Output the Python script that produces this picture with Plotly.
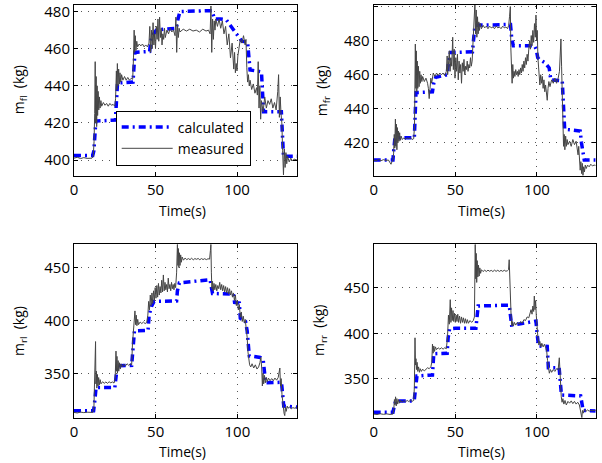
import plotly.graph_objects as go

# ---------------- data: front-left ----------------
t_fl_calc = [0, 11.5, 12.2, 12.8, 13.4, 25.4, 26.0, 26.7, 36.2, 36.8, 37.4, 46.4, 47.0, 48.0, 50.5, 55, 62.8, 63.8, 65.0, 84.5, 85.5, 86.3, 90, 93.5, 95.5, 98, 101.5, 103, 106.5, 107.3, 108.0, 112, 115.0, 115.7, 116.3, 127.2, 127.9, 128.5, 136.8]
m_fl_calc = [402.5, 402.5, 405, 415, 421, 421.5, 432, 441.5, 442, 451, 458, 458.5, 464, 467, 470, 470.5, 471, 476, 480, 480.5, 478, 476, 476, 475.5, 473, 470, 466, 464, 463.5, 455, 448.5, 448, 447.5, 436, 426, 426, 414, 402, 402]

t_fl_meas = [0, 2, 4, 6, 8, 10, 11, 11.8, 12.3, 12.7, 13.0, 13.3, 13.6, 13.9, 14.2, 14.5, 14.8, 15.2, 15.6, 16.0, 16.5, 17, 18, 19, 20, 21, 22, 23, 24, 25,
             25.5, 26.0, 26.3, 26.6, 27.0, 27.4, 27.8, 28.2, 28.7, 29.2, 30, 31, 32, 33, 34, 35, 36,
             36.5, 36.9, 37.2, 37.6, 38.0, 38.5, 39, 40, 41, 42, 43, 44, 45,
             46, 46.5, 47.0, 47.5, 48, 48.5, 49, 49.5, 50, 50.5, 51, 51.5, 52, 52.5, 53, 53.5, 54, 54.5, 55, 55.5, 56, 57, 58, 59, 60, 61, 62, 62.5, 63, 63.5, 64, 64.5,
             65, 67, 69, 71, 73, 75, 77, 79, 81, 82.5, 83.5, 84, 84.5, 85, 85.5, 86, 86.5, 87, 88, 89, 90, 91, 92, 93, 94, 95, 96, 97, 98, 98.5, 99, 99.5, 100, 100.5,
             101, 102, 103, 104, 105, 105.5, 106, 106.5, 107, 107.5, 108, 109, 110, 111, 112, 112.5, 113, 113.5, 114, 114.5, 115, 116, 117, 118, 119, 120, 121, 122, 123, 124,
             125, 125.5, 126, 126.5, 127, 127.5, 128, 128.5, 129, 129.5, 130, 130.5, 131, 132, 133, 134, 135, 136, 136.8]
m_fl_meas = [401, 401.5, 400.8, 401.3, 400.9, 401.2, 401, 402, 410, 425, 453, 420, 445, 418, 440, 424, 437, 427, 434, 428, 432, 429, 431, 429.5, 430.5, 429, 430.5, 429.5, 430, 429,
             433, 448, 438, 452, 440, 449, 441, 447, 442, 446, 443, 445, 443, 444.5, 443, 444, 443.5,
             455, 470, 458, 467, 459, 464, 461, 462.5, 461.5, 462.5, 461, 462, 461,
             463, 472, 458, 470, 460, 474, 462, 468, 460, 472, 465, 476, 464, 477, 466, 471, 462, 468, 465, 471, 466, 470, 468, 471, 469, 470, 467, 477, 458, 473, 466, 471,
             469, 470.5, 469.5, 470.5, 469.5, 470, 469, 470.5, 469.5, 470, 468, 483, 458, 476, 465, 475, 470, 476, 472, 476, 471, 475, 468, 472, 462, 468, 455, 463, 449, 458, 447, 452, 448, 456,
             460, 465, 463, 467, 462, 465, 450, 442, 446, 440, 443, 438, 441, 436, 439, 435, 453, 428, 440, 422, 432, 426, 434, 428, 432, 430, 433, 428, 431, 427,
             437, 446, 423, 434, 425, 420, 405, 392, 406, 396, 404, 398, 402, 399, 401, 399.5, 400.5, 400, 400]

# ---------------- data: front-right ----------------
t_fr_calc = [0, 11.8, 12.3, 13.0, 24.9, 25.3, 25.9, 36.0, 36.8, 38.0, 45.0, 45.8, 47.0, 60.5, 61.2, 62.0, 83.8, 84.5, 85.5, 98.5, 99.5, 100.5, 101.5, 105, 107.5, 108.5, 115.5, 116.2, 117, 122, 126.5, 127.3, 128.3, 129, 136]
m_fr_calc = [410, 410, 416, 423, 423, 440, 449.5, 450, 455, 458.5, 460, 467, 473, 473.5, 482, 489, 489.5, 482, 477, 477, 475, 470, 469, 467, 464, 457, 456.5, 440, 428, 427.5, 427, 420, 412, 410, 410]

t_fr_meas = [0, 1.5, 3, 4.5, 6, 7.5, 9, 10, 10.6, 11.2, 11.8,
             12.2, 12.6, 12.9, 13.3, 13.6, 13.9, 14.2, 14.5, 14.8, 15.1, 15.5, 15.9, 16.3, 16.8, 17.5, 18.5, 19.5, 20.5, 21.5, 22.5, 23.5, 24.5,
             25.0, 25.3, 25.5, 25.8, 26.1, 26.4, 26.7, 27, 27.4, 27.8, 28.2, 28.6, 29, 29.5, 30, 31, 32, 33, 33.5, 34, 34.5, 35, 35.5, 36,
             36.5, 37.5, 38.5, 39.5, 40.5, 41.5, 42.5, 43.5, 44.5, 45, 45.3,
             45.8, 46.3, 46.8, 47.3, 47.8, 48.4, 48.8, 49.3, 49.8, 50.3, 50.8, 51.3, 51.8, 52.3, 52.8, 53.3, 53.8, 54.3, 54.8, 55.3, 55.8, 56.3, 56.8, 57.3, 57.8, 58.3, 58.8, 59.3, 59.8, 60.3,
             60.8, 61.3, 61.7, 62.0, 62.4, 62.8, 63.2, 63.6, 64.0, 64.4, 64.8, 65.3, 66, 67, 68, 69, 70, 71, 72, 73, 74, 75, 76, 77, 78, 79, 80, 81, 82, 82.7, 83.2, 83.7,
             84.0, 84.4, 84.8, 85.2, 85.6, 86, 86.5, 87, 87.5, 88, 88.5, 89, 89.5, 90, 90.5, 91, 91.5, 92, 92.5, 93, 93.5, 94, 94.5, 95, 95.5, 96, 96.5, 97, 97.5, 98, 98.5, 99, 99.4, 99.8, 100.2, 100.6,
             101, 101.4, 101.8, 102.3, 102.8, 103.3, 103.8, 104.3, 104.8, 105.3, 105.8, 106.3, 106.8, 107.3, 108, 109, 110, 111, 112, 113, 113.8, 114.2, 114.7,
             115.1, 115.5, 115.9, 116.3, 116.7, 117.1, 117.6, 118, 118.5, 119, 120, 121, 122, 123, 124, 124.7, 125.2, 125.6, 126.1, 126.5, 126.9, 127.4, 127.8, 128.2,
             128.6, 129.1, 129.6, 130.2, 131, 132, 133, 134, 135, 136]
m_fr_meas = [410, 409.5, 410.3, 409.6, 410.2, 409.7, 410, 408.5, 407.5, 409, 410,
             414, 425, 417, 434, 418, 431, 416, 429, 420, 427, 421, 426, 421.5, 424, 422, 423, 422, 423, 422.5, 423, 422, 422.5,
             430, 458, 478, 452, 474, 450, 468, 452, 465, 453, 462, 455, 460, 456, 459, 456, 458, 455, 452, 446, 455, 458, 455, 458,
             461, 459, 461, 459.5, 461, 460, 461, 459.5, 462, 471, 460,
             466, 474, 462, 470, 465, 482, 463, 475, 458, 470, 462, 472, 457, 468, 461, 466, 455, 467, 462, 469, 460, 465, 463, 468, 462, 466, 464, 470, 465, 468,
             478, 486, 495, 502, 484, 498, 482, 494, 484, 491, 486, 490, 487, 489, 487.5, 488.5, 487, 488.5, 487.5, 488, 487, 488.5, 487.5, 488, 487, 488.5, 487.5, 488, 487, 489, 494, 500,
             476, 462, 455, 466, 458, 462, 459, 463, 460, 462, 459, 463, 460, 464, 461, 466, 462, 468, 464, 470, 466, 472, 468, 475, 480, 475, 483, 477, 486, 479, 490, 482, 495, 480, 486, 470,
             462, 458, 454, 460, 455, 459, 452, 457, 450, 454, 447, 445, 452, 456, 453, 457, 455, 458, 455, 458, 462, 470, 481,
             465, 440, 430, 418, 425, 416, 424, 418, 422, 419, 421, 418, 422, 419, 421, 417, 413, 418, 410, 404, 409, 402, 408, 401,
             406, 403, 407, 405, 407, 406, 407.5, 406.5, 407, 406.8]

# ---------------- data: rear-left ----------------
t_rl_calc = [0, 12.0, 12.8, 13.5, 25.0, 25.8, 26.5, 35.3, 36.0, 37.0, 45.3, 46.0, 47.5, 49, 62.8, 63.3, 64.5, 70, 83.3, 84.0, 84.8, 97.6, 98.3, 101.2, 101.8, 105.0, 106.0, 107.3, 114, 115.8, 116.5, 117.3, 127.0, 127.6, 128.4, 136.7]
m_rl_calc = [314.5, 314.5, 325, 336.5, 336.5, 350, 357, 357.5, 375, 390, 390.5, 405, 413.5, 418, 418.5, 428, 435.5, 436.5, 438.5, 432, 425.5, 425, 417, 416.5, 402, 399, 390, 366.5, 365, 363, 350, 341, 341.5, 330, 319, 318]

t_rl_meas = [0, 2, 4, 6, 8, 10, 11.5, 12.2, 12.6, 12.9, 13.2, 13.4, 13.7, 14.0, 14.3, 14.7, 15.1, 15.5, 16, 16.5, 17.5, 18.5, 19.5, 20.5, 21.5, 22.5, 23.5, 24.5,
             25.2, 25.7, 26.0, 26.3, 26.6, 27.0, 27.4, 27.8, 28.3, 28.8, 29.5, 30.5, 31.5, 32.5, 33.5, 34.5, 35.3,
             35.8, 36.3, 36.8, 37.3, 37.7, 38.1, 38.5, 39, 39.5, 40.5, 41.5, 42.5, 43.5, 44.5,
             45.2, 45.7, 46.2, 46.7, 47.2, 47.7, 48.2, 48.7, 49.2, 49.7, 50.2, 50.7, 51.2, 51.7, 52.2, 52.7, 53.2, 53.7, 54.2, 54.7, 55.2, 55.7, 56.2, 56.7, 57.2, 57.7, 58.2, 58.7, 59.2, 59.7, 60.2, 60.7, 61.2, 61.7, 62.2,
             62.8, 63.3, 63.6, 63.9, 64.2, 64.5, 64.9, 65.3, 65.7, 66.2, 67, 68, 69, 70, 71, 72, 73, 74, 75, 76, 77, 78, 79, 80, 81, 82, 83, 83.5, 83.8,
             84.1, 84.4, 84.8, 85.2, 85.7, 86.2, 86.8, 87.4, 88, 88.6, 89.2, 89.8, 90.4, 91, 91.6, 92.2, 92.8, 93.4, 94, 94.6, 95.2, 95.8, 96.4, 97, 97.6, 98.2, 98.8, 99.4, 100, 100.6,
             101.2, 101.8, 102.4, 103, 103.6, 104.2, 104.8, 105.4, 106, 106.5, 107, 107.5, 108.2, 109, 110, 111, 112, 113, 113.8, 114.4, 114.9, 115.3, 115.7, 116.1, 116.6, 117.1, 117.7, 118.3,
             119, 120, 121, 122, 123, 124, 125, 125.6, 126.0, 126.4, 126.8, 127.3, 127.7, 128.2, 128.6, 129.0, 129.4, 129.9, 130.5, 131, 132, 133, 134, 135, 136, 136.7]
m_rl_meas = [313, 312.5, 313.3, 312.8, 313.2, 312.7, 313, 318, 335, 348, 380, 340, 352, 336, 349, 338, 346, 339, 344, 340, 342, 340.5, 341.8, 340.5, 342, 341, 341.8, 340.8,
             345, 371, 352, 366, 350, 362, 352, 360, 354, 359, 356, 358.5, 357, 359, 357.5, 359, 358,
             378, 392, 400, 409, 396, 405, 395, 401, 396, 398.5, 397, 398.5, 397, 398,
             405, 418, 410, 424, 414, 426, 416, 428, 419, 431, 421, 433, 422, 435, 424, 432, 426, 438, 427, 443, 428, 436, 429, 434, 427, 440, 430, 434, 428, 436, 430, 434, 429, 435, 431,
             445, 472, 452, 468, 450, 464, 452, 462, 455, 460, 457, 459, 457.5, 458.5, 457.5, 458.8, 457.3, 458.5, 457.8, 458.6, 457.4, 458.5, 457.6, 458.4, 457.5, 458.3, 458, 466, 472,
             445, 430, 437, 428, 435, 429, 434, 428, 433, 430, 436, 429, 434, 428, 433, 427, 432, 426, 431, 425, 430, 424, 428, 422, 426, 419, 424, 414, 419, 410,
             415, 403, 408, 399, 404, 398, 401, 394, 384, 370, 362, 358, 356, 359, 355, 358, 354, 356, 360, 365, 355, 338, 350, 340, 348, 341, 346, 342,
             345.5, 343, 345, 343, 345.5, 343.5, 346, 350, 355, 338, 345, 330, 322, 318, 312, 310, 318, 314, 319, 317, 318, 316.5, 317.5, 317, 317.5, 317]

# ---------------- data: rear-right ----------------
t_rr_calc = [0, 11.8, 12.5, 13.5, 24.8, 25.5, 26.5, 36.0, 36.8, 45.0, 45.6, 46.5, 50, 62.6, 63.3, 64, 83.0, 83.8, 84.5, 90, 99.4, 100.2, 101, 106.3, 107, 113.6, 114.3, 115, 126.8, 127.5, 128.3, 136]
m_rr_calc = [313, 313, 319, 325.5, 325.5, 340, 353, 354, 377.5, 378, 395, 405, 405.5, 405.5, 420, 430, 431, 420, 409, 410.5, 413.5, 398, 386, 385.5, 362, 362, 345, 332, 331, 322, 315, 314.5]

t_rr_meas = [0, 2, 4, 6, 8, 10, 11.8, 12.3, 12.7, 13.0, 13.4, 13.8, 14.2, 14.7, 15.2, 15.8, 16.5, 17.5, 18.5, 19.5, 20.5, 21.5, 22.5, 23.5, 24.5,
             24.9, 25.3, 25.6, 25.9, 26.2, 26.6, 27, 27.5, 28, 28.5, 29.2, 30, 31, 32, 33, 34, 35, 35.6, 36.0, 36.4, 36.8, 37.3, 37.8, 38.5, 39.5, 40.5, 41.5, 42.5, 43.5, 44.5,
             45.2, 45.8, 46.3, 46.9, 47.3, 47.7, 48.1, 48.6, 49.0, 49.5, 50.0, 50.5, 51.0, 51.5, 52.0, 52.6, 53.2, 53.8, 54.4, 55.0, 55.6, 56.2, 56.8, 57.4, 58, 59, 60, 61, 61.7,
             62.2, 62.5, 62.8, 63.1, 63.4, 63.8, 64.2, 64.6, 65.0, 65.5, 66, 67, 68, 69, 70, 71, 72, 73, 74, 75, 76, 77, 78, 79, 80, 81, 82, 82.6, 83.0, 83.4, 83.8,
             84.2, 84.6, 85.1, 85.6, 86.2, 87, 88, 89, 90, 91, 92, 93, 94, 95, 95.8, 96.4, 97, 97.5, 98, 98.4, 98.8, 99.2, 99.6, 100.1, 100.6,
             101.2, 101.8, 102.4, 103, 103.8, 104.6, 105.4, 106, 106.5, 107, 107.6, 108.3, 109, 110, 111, 112, 113, 113.7, 114.1, 114.5, 114.9, 115.4, 115.9, 116.5, 117.2,
             118, 119, 120, 121, 122, 123, 124, 125, 126, 126.6, 127.1, 127.5, 127.9, 128.4, 129, 130, 131, 132, 133, 134, 135, 136]
m_rr_meas = [311, 310.5, 311.3, 310.7, 311.2, 310.6, 311, 316, 327, 321, 330, 320, 328, 322, 327, 323, 326, 324, 326, 324.5, 326, 324.8, 326.2, 325, 326,
             340, 395, 365, 372, 360, 368, 358, 363, 357, 361, 358, 360.5, 358.5, 360.5, 362, 361, 363, 368, 388, 378, 386, 380, 385, 382, 384, 382.5, 384, 382.5, 384, 383,
             395, 420, 410, 437, 412, 428, 414, 425, 413, 422, 412, 420, 413, 421, 412, 419, 411, 418, 412, 417, 411, 416, 411, 415, 411, 414, 412, 414, 418,
             498, 460, 488, 456, 480, 462, 475, 463, 472, 466, 470, 468, 469.5, 468, 469.5, 468.3, 469.3, 468, 469.5, 468.2, 469.4, 468.1, 469.3, 468.2, 469.4, 468.3, 469, 470, 481, 455, 430,
             418, 408, 413, 408, 412, 409, 412, 410, 413, 411, 415, 414, 418, 417, 422, 426, 421, 430, 424, 441, 426, 436, 420, 405, 395,
             387, 391, 385, 389, 385, 388, 384, 380, 370, 360, 356, 360, 357, 360, 358, 361, 360, 373, 352, 340, 330, 324, 328, 322, 326,
             321, 325, 323, 325.5, 322.5, 325, 322, 324, 321, 316, 310, 307, 315, 312, 316, 314, 315.5, 314.2, 315.3, 314.5, 315.2, 314.8]

x_ticks = [0, 50, 100]
y_ticks_fl = [400, 420, 440, 460, 480]
y_ticks_fr = [420, 440, 460, 480, 500]
y_ticks_rl = [350, 400, 450]
y_ticks_rr = [350, 400, 450]

x_title = "Time(s)"
y_titles = ["m<sub>fl</sub>\u00a0\u00a0(kg)", "m<sub>fr</sub>\u00a0\u00a0(kg)",
            "m<sub>rl</sub>\u00a0\u00a0(kg)", "m<sub>rr</sub>\u00a0\u00a0(kg)"]

FONT = "Open Sans"
CALC_COLOR = "#0000ff"
MEAS_COLOR = "#454545"
W, H = 602, 463

panels = [
    ("", t_fl_calc, m_fl_calc, t_fl_meas, m_fl_meas, True),
    ("2", t_fr_calc, m_fr_calc, t_fr_meas, m_fr_meas, False),
    ("3", t_rl_calc, m_rl_calc, t_rl_meas, m_rl_meas, False),
    ("4", t_rr_calc, m_rr_calc, t_rr_meas, m_rr_meas, False),
]

fig = go.Figure()
for suffix, tc, mc, tm, mm, show in panels:
    fig.add_trace(go.Scatter(x=tc, y=mc, mode="lines", name="calculated",
                             line=dict(color=CALC_COLOR, width=3.5, dash="7px,4px,2px,4px"),
                             xaxis="x" + suffix, yaxis="y" + suffix, showlegend=show))
    fig.add_trace(go.Scatter(x=tm, y=mm, mode="lines", name="measured",
                             line=dict(color=MEAS_COLOR, width=1),
                             xaxis="x" + suffix, yaxis="y" + suffix, showlegend=show))

common = dict(showline=True, linecolor="black", linewidth=1, mirror="ticks",
              ticks="inside", ticklen=4, tickcolor="black", automargin=False,
              showgrid=True, gridcolor="#555555", griddash="1px,6px", gridwidth=1,
              zeroline=False, tickfont=dict(family=FONT, size=15, color="black"))

def xax(domain, anchor, rng):
    return dict(common, domain=domain, anchor=anchor, range=rng, tickvals=x_ticks)

def yax(domain, anchor, rng, ticks):
    return dict(common, domain=domain, anchor=anchor, range=rng, tickvals=ticks)

left_px = (74, 297)
right_px = (373.7, 595.7)
top_px = (4.5, 176)
bottom_px = (244.3, 417.7)

def xdom(p):
    return [p[0] / W, p[1] / W]

def ydom(p):
    return [1 - p[1] / H, 1 - p[0] / H]

annotations = []
for (xp, yp, label, ytx) in [(left_px, top_px, y_titles[0], 19),
                             (right_px, top_px, y_titles[1], 322),
                             (left_px, bottom_px, y_titles[2], 19),
                             (right_px, bottom_px, y_titles[3], 319)]:
    annotations.append(dict(text=label, xref="paper", yref="paper",
                            x=ytx / W, y=1 - (yp[0] + yp[1]) / 2 / H, textangle=-90,
                            xanchor="center", yanchor="middle", showarrow=False,
                            font=dict(family=FONT, size=14, color="black")))
    annotations.append(dict(text=x_title, xref="paper", yref="paper",
                            x=((xp[0] + xp[1]) / 2 - 3) / W, y=1 - (yp[1] + 34) / H,
                            xanchor="center", yanchor="middle", showarrow=False,
                            font=dict(family=FONT, size=14, color="black")))

fig.update_layout(
    width=W, height=H,
    margin=dict(l=0, r=0, t=0, b=0),
    paper_bgcolor="white", plot_bgcolor="white",
    font=dict(family=FONT, size=14, color="black"),
    xaxis=xax(xdom(left_px), "y", [0, 136.8]),
    yaxis=yax(ydom(top_px), "x", [391.4, 483.8], y_ticks_fl),
    xaxis2=xax(xdom(right_px), "y2", [0, 136]),
    yaxis2=yax(ydom(top_px), "x2", [400.6, 501.2], y_ticks_fr),
    xaxis3=xax(xdom(left_px), "y3", [0, 136.5]),
    yaxis3=yax(ydom(bottom_px), "x3", [308, 472], y_ticks_rl),
    xaxis4=xax(xdom(right_px), "y4", [0, 136]),
    yaxis4=yax(ydom(bottom_px), "x4", [307, 498], y_ticks_rr),
    annotations=annotations,
    legend=dict(x=115.7 / W, y=1 - 110.5 / H, xanchor="left", yanchor="top",
                bgcolor="white", bordercolor="black", borderwidth=1, itemwidth=51,
                font=dict(family=FONT, size=14, color="black"), tracegroupgap=0),
    showlegend=True,
)

fig.write_html("out.html", config={"displayModeBar": False},
               post_script="document.body.style.margin='0';document.body.style.overflow='hidden';")
